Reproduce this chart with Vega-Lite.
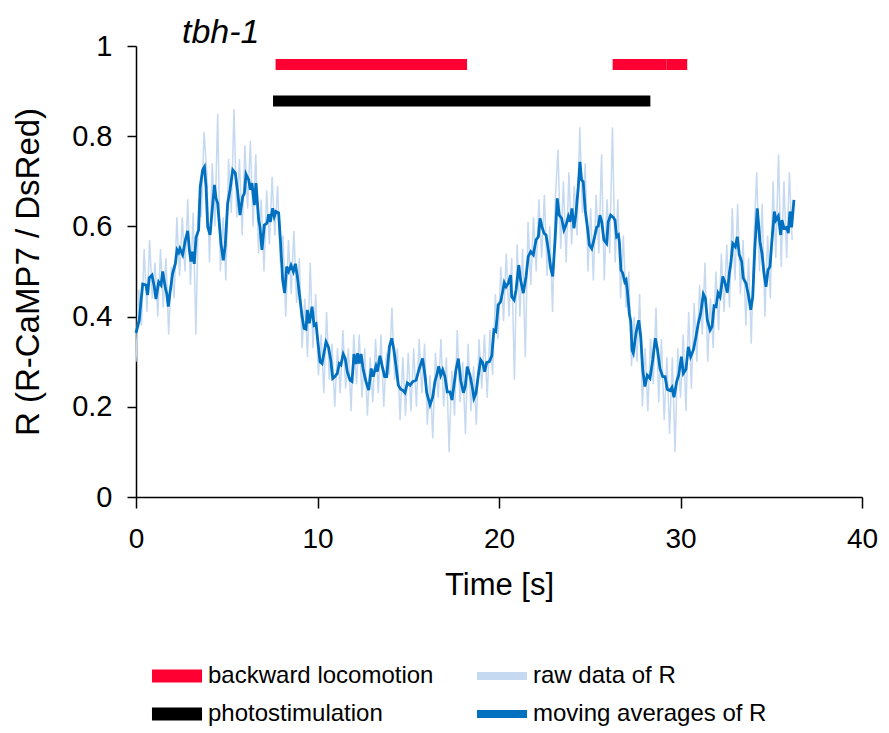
{
"$schema":"https://vega.github.io/schema/vega-lite/v6.json",
"width":726,"height":451,"autosize":"none",
"padding":{"left":136,"top":46,"right":27,"bottom":236},
"config":{"view":{"stroke":null},"font":"Liberation Sans","axis":{"grid":false,"domainColor":"black","tickColor":"black","labelColor":"black","titleColor":"black","domainWidth":1.5,"tickWidth":1.5,"labelFontSize":28,"titleFontWeight":"normal","labelFont":"Liberation Sans","titleFont":"Liberation Sans"}},
"title":{"text":"tbh-1","fontStyle":"italic","fontWeight":"normal","fontSize":34,"font":"Liberation Sans","anchor":"start","frame":"group","dx":46,"dy":22,"offset":4,"color":"black"},
"datasets":{
"raw":[{"t":0,"r":0.3},{"t":0.15,"r":0.46},{"t":0.3,"r":0.38},{"t":0.45,"r":0.55},{"t":0.6,"r":0.41},{"t":0.75,"r":0.57},{"t":0.9,"r":0.44},{"t":1.05,"r":0.52},{"t":1.2,"r":0.4},{"t":1.35,"r":0.55},{"t":1.5,"r":0.42},{"t":1.65,"r":0.53},{"t":1.8,"r":0.36},{"t":1.95,"r":0.51},{"t":2.1,"r":0.44},{"t":2.25,"r":0.62},{"t":2.4,"r":0.49},{"t":2.55,"r":0.62},{"t":2.7,"r":0.5},{"t":2.85,"r":0.66},{"t":3,"r":0.47},{"t":3.15,"r":0.63},{"t":3.3,"r":0.36},{"t":3.45,"r":0.66},{"t":3.6,"r":0.62},{"t":3.75,"r":0.81},{"t":3.9,"r":0.72},{"t":4.05,"r":0.52},{"t":4.2,"r":0.74},{"t":4.35,"r":0.6},{"t":4.5,"r":0.85},{"t":4.65,"r":0.5},{"t":4.8,"r":0.62},{"t":4.95,"r":0.48},{"t":5.1,"r":0.75},{"t":5.25,"r":0.63},{"t":5.4,"r":0.86},{"t":5.55,"r":0.62},{"t":5.7,"r":0.75},{"t":5.85,"r":0.58},{"t":6,"r":0.78},{"t":6.15,"r":0.64},{"t":6.3,"r":0.79},{"t":6.45,"r":0.6},{"t":6.6,"r":0.76},{"t":6.75,"r":0.54},{"t":6.9,"r":0.66},{"t":7.05,"r":0.5},{"t":7.2,"r":0.68},{"t":7.35,"r":0.56},{"t":7.5,"r":0.71},{"t":7.65,"r":0.58},{"t":7.8,"r":0.69},{"t":7.95,"r":0.52},{"t":8.1,"r":0.58},{"t":8.25,"r":0.4},{"t":8.4,"r":0.57},{"t":8.55,"r":0.45},{"t":8.7,"r":0.59},{"t":8.85,"r":0.43},{"t":9,"r":0.53},{"t":9.15,"r":0.33},{"t":9.3,"r":0.44},{"t":9.45,"r":0.31},{"t":9.6,"r":0.52},{"t":9.75,"r":0.33},{"t":9.9,"r":0.45},{"t":10.05,"r":0.27},{"t":10.2,"r":0.36},{"t":10.35,"r":0.23},{"t":10.5,"r":0.41},{"t":10.65,"r":0.26},{"t":10.8,"r":0.34},{"t":10.95,"r":0.2},{"t":11.1,"r":0.33},{"t":11.25,"r":0.23},{"t":11.4,"r":0.37},{"t":11.55,"r":0.24},{"t":11.7,"r":0.33},{"t":11.85,"r":0.19},{"t":12,"r":0.36},{"t":12.15,"r":0.25},{"t":12.3,"r":0.36},{"t":12.45,"r":0.22},{"t":12.6,"r":0.33},{"t":12.75,"r":0.18},{"t":12.9,"r":0.31},{"t":13.05,"r":0.21},{"t":13.2,"r":0.35},{"t":13.35,"r":0.23},{"t":13.5,"r":0.36},{"t":13.65,"r":0.2},{"t":13.8,"r":0.32},{"t":13.95,"r":0.27},{"t":14.1,"r":0.42},{"t":14.25,"r":0.26},{"t":14.4,"r":0.33},{"t":14.55,"r":0.17},{"t":14.7,"r":0.31},{"t":14.85,"r":0.18},{"t":15,"r":0.32},{"t":15.15,"r":0.19},{"t":15.3,"r":0.33},{"t":15.45,"r":0.2},{"t":15.6,"r":0.35},{"t":15.75,"r":0.23},{"t":15.9,"r":0.34},{"t":16.05,"r":0.16},{"t":16.2,"r":0.27},{"t":16.35,"r":0.13},{"t":16.5,"r":0.32},{"t":16.65,"r":0.22},{"t":16.8,"r":0.35},{"t":16.95,"r":0.2},{"t":17.1,"r":0.31},{"t":17.25,"r":0.1},{"t":17.4,"r":0.28},{"t":17.55,"r":0.18},{"t":17.7,"r":0.37},{"t":17.85,"r":0.21},{"t":18,"r":0.3},{"t":18.15,"r":0.14},{"t":18.3,"r":0.34},{"t":18.45,"r":0.19},{"t":18.6,"r":0.29},{"t":18.75,"r":0.16},{"t":18.9,"r":0.35},{"t":19.05,"r":0.24},{"t":19.2,"r":0.36},{"t":19.35,"r":0.22},{"t":19.5,"r":0.37},{"t":19.65,"r":0.27},{"t":19.8,"r":0.45},{"t":19.95,"r":0.35},{"t":20.1,"r":0.51},{"t":20.25,"r":0.39},{"t":20.4,"r":0.54},{"t":20.55,"r":0.4},{"t":20.7,"r":0.53},{"t":20.85,"r":0.26},{"t":21,"r":0.56},{"t":21.15,"r":0.4},{"t":21.3,"r":0.55},{"t":21.45,"r":0.31},{"t":21.6,"r":0.61},{"t":21.75,"r":0.47},{"t":21.9,"r":0.62},{"t":22.05,"r":0.5},{"t":22.2,"r":0.66},{"t":22.35,"r":0.53},{"t":22.5,"r":0.67},{"t":22.65,"r":0.49},{"t":22.8,"r":0.6},{"t":22.95,"r":0.41},{"t":23.1,"r":0.66},{"t":23.25,"r":0.77},{"t":23.4,"r":0.55},{"t":23.55,"r":0.7},{"t":23.7,"r":0.52},{"t":23.85,"r":0.72},{"t":24,"r":0.56},{"t":24.15,"r":0.69},{"t":24.3,"r":0.58},{"t":24.45,"r":0.82},{"t":24.6,"r":0.63},{"t":24.75,"r":0.74},{"t":24.9,"r":0.5},{"t":25.05,"r":0.64},{"t":25.2,"r":0.48},{"t":25.35,"r":0.67},{"t":25.5,"r":0.54},{"t":25.65,"r":0.76},{"t":25.8,"r":0.48},{"t":25.95,"r":0.66},{"t":26.1,"r":0.54},{"t":26.25,"r":0.82},{"t":26.4,"r":0.52},{"t":26.55,"r":0.66},{"t":26.7,"r":0.44},{"t":26.85,"r":0.58},{"t":27,"r":0.42},{"t":27.15,"r":0.5},{"t":27.3,"r":0.29},{"t":27.45,"r":0.4},{"t":27.6,"r":0.3},{"t":27.75,"r":0.45},{"t":27.9,"r":0.2},{"t":28.05,"r":0.33},{"t":28.2,"r":0.19},{"t":28.35,"r":0.35},{"t":28.5,"r":0.25},{"t":28.65,"r":0.42},{"t":28.8,"r":0.21},{"t":28.95,"r":0.35},{"t":29.1,"r":0.17},{"t":29.25,"r":0.31},{"t":29.4,"r":0.14},{"t":29.55,"r":0.31},{"t":29.7,"r":0.1},{"t":29.85,"r":0.33},{"t":30,"r":0.22},{"t":30.15,"r":0.36},{"t":30.3,"r":0.19},{"t":30.45,"r":0.41},{"t":30.6,"r":0.24},{"t":30.75,"r":0.43},{"t":30.9,"r":0.3},{"t":31.05,"r":0.47},{"t":31.2,"r":0.36},{"t":31.35,"r":0.52},{"t":31.5,"r":0.3},{"t":31.65,"r":0.44},{"t":31.8,"r":0.33},{"t":31.95,"r":0.5},{"t":32.1,"r":0.37},{"t":32.25,"r":0.54},{"t":32.4,"r":0.41},{"t":32.55,"r":0.56},{"t":32.7,"r":0.42},{"t":32.85,"r":0.64},{"t":33,"r":0.48},{"t":33.15,"r":0.65},{"t":33.3,"r":0.45},{"t":33.45,"r":0.57},{"t":33.6,"r":0.38},{"t":33.75,"r":0.53},{"t":33.9,"r":0.34},{"t":34.05,"r":0.58},{"t":34.2,"r":0.72},{"t":34.35,"r":0.5},{"t":34.5,"r":0.65},{"t":34.65,"r":0.4},{"t":34.8,"r":0.58},{"t":34.95,"r":0.44},{"t":35.1,"r":0.7},{"t":35.25,"r":0.53},{"t":35.4,"r":0.76},{"t":35.55,"r":0.51},{"t":35.7,"r":0.7},{"t":35.85,"r":0.53},{"t":36,"r":0.72},{"t":36.15,"r":0.57}],
"ma":[{"t":0,"r":0.364},{"t":0.18,"r":0.392},{"t":0.28,"r":0.437},{"t":0.37,"r":0.472},{"t":0.55,"r":0.47},{"t":0.64,"r":0.448},{"t":0.73,"r":0.486},{"t":0.88,"r":0.492},{"t":1.01,"r":0.466},{"t":1.1,"r":0.439},{"t":1.25,"r":0.477},{"t":1.38,"r":0.47},{"t":1.47,"r":0.5},{"t":1.62,"r":0.463},{"t":1.69,"r":0.452},{"t":1.78,"r":0.422},{"t":1.87,"r":0.452},{"t":2.02,"r":0.496},{"t":2.17,"r":0.518},{"t":2.26,"r":0.548},{"t":2.35,"r":0.542},{"t":2.42,"r":0.551},{"t":2.57,"r":0.537},{"t":2.72,"r":0.57},{"t":2.85,"r":0.59},{"t":2.94,"r":0.548},{"t":3.03,"r":0.522},{"t":3.12,"r":0.544},{"t":3.21,"r":0.517},{"t":3.31,"r":0.576},{"t":3.45,"r":0.592},{"t":3.54,"r":0.688},{"t":3.67,"r":0.725},{"t":3.77,"r":0.732},{"t":3.86,"r":0.688},{"t":3.95,"r":0.599},{"t":4.08,"r":0.581},{"t":4.19,"r":0.633},{"t":4.32,"r":0.692},{"t":4.41,"r":0.662},{"t":4.5,"r":0.651},{"t":4.68,"r":0.562},{"t":4.81,"r":0.525},{"t":4.92,"r":0.559},{"t":5.05,"r":0.651},{"t":5.18,"r":0.681},{"t":5.33,"r":0.725},{"t":5.47,"r":0.718},{"t":5.6,"r":0.677},{"t":5.73,"r":0.625},{"t":5.88,"r":0.666},{"t":5.97,"r":0.673},{"t":6.06,"r":0.716},{"t":6.21,"r":0.703},{"t":6.3,"r":0.681},{"t":6.39,"r":0.696},{"t":6.52,"r":0.647},{"t":6.61,"r":0.696},{"t":6.76,"r":0.614},{"t":6.83,"r":0.599},{"t":6.94,"r":0.548},{"t":7.07,"r":0.603},{"t":7.22,"r":0.607},{"t":7.31,"r":0.627},{"t":7.4,"r":0.61},{"t":7.53,"r":0.64},{"t":7.62,"r":0.622},{"t":7.71,"r":0.633},{"t":7.86,"r":0.63},{"t":7.99,"r":0.548},{"t":8.08,"r":0.481},{"t":8.19,"r":0.452},{"t":8.3,"r":0.511},{"t":8.41,"r":0.5},{"t":8.54,"r":0.514},{"t":8.67,"r":0.5},{"t":8.78,"r":0.517},{"t":8.89,"r":0.489},{"t":9.04,"r":0.437},{"t":9.15,"r":0.4},{"t":9.26,"r":0.374},{"t":9.37,"r":0.372},{"t":9.44,"r":0.415},{"t":9.55,"r":0.385},{"t":9.7,"r":0.422},{"t":9.81,"r":0.381},{"t":9.92,"r":0.384},{"t":10.05,"r":0.333},{"t":10.14,"r":0.3},{"t":10.25,"r":0.296},{"t":10.32,"r":0.311},{"t":10.47,"r":0.344},{"t":10.6,"r":0.333},{"t":10.73,"r":0.304},{"t":10.84,"r":0.263},{"t":10.96,"r":0.267},{"t":11.09,"r":0.274},{"t":11.2,"r":0.296},{"t":11.29,"r":0.293},{"t":11.42,"r":0.317},{"t":11.53,"r":0.307},{"t":11.64,"r":0.278},{"t":11.79,"r":0.259},{"t":11.9,"r":0.256},{"t":12.01,"r":0.317},{"t":12.12,"r":0.295},{"t":12.21,"r":0.319},{"t":12.3,"r":0.296},{"t":12.4,"r":0.317},{"t":12.52,"r":0.282},{"t":12.67,"r":0.256},{"t":12.82,"r":0.237},{"t":12.96,"r":0.285},{"t":13.07,"r":0.267},{"t":13.22,"r":0.29},{"t":13.3,"r":0.278},{"t":13.44,"r":0.313},{"t":13.57,"r":0.289},{"t":13.7,"r":0.267},{"t":13.81,"r":0.267},{"t":13.96,"r":0.333},{"t":14.09,"r":0.352},{"t":14.21,"r":0.326},{"t":14.33,"r":0.289},{"t":14.45,"r":0.248},{"t":14.58,"r":0.239},{"t":14.69,"r":0.237},{"t":14.82,"r":0.231},{"t":14.95,"r":0.253},{"t":15.1,"r":0.248},{"t":15.25,"r":0.256},{"t":15.43,"r":0.259},{"t":15.61,"r":0.285},{"t":15.79,"r":0.307},{"t":15.92,"r":0.27},{"t":16.02,"r":0.231},{"t":16.2,"r":0.204},{"t":16.35,"r":0.222},{"t":16.47,"r":0.256},{"t":16.57,"r":0.27},{"t":16.68,"r":0.29},{"t":16.79,"r":0.27},{"t":16.9,"r":0.282},{"t":17.02,"r":0.267},{"t":17.15,"r":0.233},{"t":17.3,"r":0.233},{"t":17.41,"r":0.215},{"t":17.52,"r":0.248},{"t":17.63,"r":0.282},{"t":17.76,"r":0.307},{"t":17.89,"r":0.259},{"t":18.04,"r":0.231},{"t":18.14,"r":0.245},{"t":18.25,"r":0.289},{"t":18.4,"r":0.27},{"t":18.51,"r":0.248},{"t":18.62,"r":0.219},{"t":18.73,"r":0.23},{"t":18.86,"r":0.27},{"t":18.99,"r":0.304},{"t":19.1,"r":0.298},{"t":19.21,"r":0.278},{"t":19.32,"r":0.298},{"t":19.47,"r":0.3},{"t":19.6,"r":0.313},{"t":19.72,"r":0.37},{"t":19.82,"r":0.367},{"t":19.96,"r":0.426},{"t":20.09,"r":0.433},{"t":20.2,"r":0.455},{"t":20.29,"r":0.475},{"t":20.39,"r":0.466},{"t":20.51,"r":0.474},{"t":20.64,"r":0.492},{"t":20.7,"r":0.444},{"t":20.83,"r":0.437},{"t":20.94,"r":0.459},{"t":21.09,"r":0.514},{"t":21.19,"r":0.481},{"t":21.34,"r":0.452},{"t":21.49,"r":0.489},{"t":21.61,"r":0.533},{"t":21.75,"r":0.544},{"t":21.89,"r":0.537},{"t":22.04,"r":0.57},{"t":22.17,"r":0.577},{"t":22.26,"r":0.618},{"t":22.37,"r":0.599},{"t":22.48,"r":0.585},{"t":22.59,"r":0.581},{"t":22.72,"r":0.548},{"t":22.85,"r":0.507},{"t":22.96,"r":0.489},{"t":23.09,"r":0.57},{"t":23.21,"r":0.662},{"t":23.32,"r":0.625},{"t":23.45,"r":0.618},{"t":23.58,"r":0.592},{"t":23.69,"r":0.603},{"t":23.82,"r":0.622},{"t":23.91,"r":0.61},{"t":24.02,"r":0.64},{"t":24.13,"r":0.596},{"t":24.24,"r":0.629},{"t":24.37,"r":0.688},{"t":24.46,"r":0.743},{"t":24.55,"r":0.703},{"t":24.64,"r":0.699},{"t":24.75,"r":0.636},{"t":24.87,"r":0.599},{"t":24.98,"r":0.559},{"t":25.11,"r":0.551},{"t":25.23,"r":0.57},{"t":25.38,"r":0.598},{"t":25.47,"r":0.601},{"t":25.56,"r":0.625},{"t":25.66,"r":0.61},{"t":25.78,"r":0.57},{"t":25.93,"r":0.562},{"t":26.02,"r":0.61},{"t":26.15,"r":0.625},{"t":26.3,"r":0.62},{"t":26.39,"r":0.614},{"t":26.48,"r":0.577},{"t":26.58,"r":0.581},{"t":26.63,"r":0.566},{"t":26.72,"r":0.503},{"t":26.81,"r":0.497},{"t":26.93,"r":0.477},{"t":27,"r":0.481},{"t":27.07,"r":0.459},{"t":27.18,"r":0.407},{"t":27.26,"r":0.389},{"t":27.33,"r":0.326},{"t":27.4,"r":0.319},{"t":27.55,"r":0.364},{"t":27.7,"r":0.392},{"t":27.81,"r":0.355},{"t":27.92,"r":0.282},{"t":28.04,"r":0.245},{"t":28.17,"r":0.27},{"t":28.32,"r":0.263},{"t":28.47,"r":0.304},{"t":28.61,"r":0.352},{"t":28.72,"r":0.33},{"t":28.87,"r":0.285},{"t":29.02,"r":0.267},{"t":29.15,"r":0.267},{"t":29.27,"r":0.239},{"t":29.42,"r":0.236},{"t":29.53,"r":0.243},{"t":29.64,"r":0.221},{"t":29.79,"r":0.256},{"t":29.9,"r":0.27},{"t":30.05,"r":0.311},{"t":30.16,"r":0.274},{"t":30.3,"r":0.283},{"t":30.43,"r":0.333},{"t":30.56,"r":0.311},{"t":30.71,"r":0.326},{"t":30.85,"r":0.355},{"t":30.98,"r":0.385},{"t":31.11,"r":0.407},{"t":31.26,"r":0.45},{"t":31.37,"r":0.441},{"t":31.48,"r":0.392},{"t":31.63,"r":0.37},{"t":31.74,"r":0.378},{"t":31.85,"r":0.424},{"t":31.96,"r":0.422},{"t":32.07,"r":0.452},{"t":32.18,"r":0.444},{"t":32.33,"r":0.489},{"t":32.44,"r":0.477},{"t":32.58,"r":0.453},{"t":32.69,"r":0.496},{"t":32.77,"r":0.517},{"t":32.88,"r":0.562},{"t":33.02,"r":0.555},{"t":33.13,"r":0.577},{"t":33.24,"r":0.537},{"t":33.37,"r":0.522},{"t":33.46,"r":0.485},{"t":33.61,"r":0.474},{"t":33.74,"r":0.448},{"t":33.87,"r":0.415},{"t":33.98,"r":0.444},{"t":34.09,"r":0.548},{"t":34.23,"r":0.64},{"t":34.38,"r":0.566},{"t":34.49,"r":0.54},{"t":34.6,"r":0.496},{"t":34.71,"r":0.466},{"t":34.82,"r":0.503},{"t":34.93,"r":0.511},{"t":35.04,"r":0.57},{"t":35.17,"r":0.633},{"t":35.26,"r":0.614},{"t":35.39,"r":0.623},{"t":35.52,"r":0.581},{"t":35.59,"r":0.614},{"t":35.7,"r":0.596},{"t":35.85,"r":0.598},{"t":35.94,"r":0.585},{"t":36.03,"r":0.633},{"t":36.12,"r":0.598},{"t":36.25,"r":0.659}],
"bars":[{"label":"backward locomotion","start":7.69,"end":18.24,"y":0.959},{"label":"backward locomotion","start":26.26,"end":29.22,"y":0.959},{"label":"backward locomotion","start":29.22,"end":30.37,"y":0.959},{"label":"photostimulation","start":7.55,"end":28.34,"y":0.878}]
},
"layer":[
{"data":{"name":"raw"},"mark":{"type":"line","strokeWidth":1.5,"interpolate":"linear"},
 "encoding":{
  "x":{"field":"t","type":"quantitative","scale":{"domain":[0,40],"nice":false,"zero":false},"axis":{"values":[0,10,20,30,40],"title":"Time [s]","labelFlush":false,"tickSize":11,"labelPadding":17,"titlePadding":17,"titleFontSize":31}},
  "y":{"field":"r","type":"quantitative","scale":{"domain":[0,1],"nice":false},"axis":{"values":[0,0.2,0.4,0.6,0.8,1],"format":"~g","title":"R (R-CaMP7 / DsRed)","tickSize":9,"labelPadding":15,"titlePadding":26,"titleFontSize":33,"labelFontSize":29}},
  "color":{"datum":"raw data of R","type":"nominal","scale":{"domain":["backward locomotion","photostimulation","raw data of R","moving averages of R"],"range":["#ff0033","#000000","#c5d9f1","#0070c0"]},
   "legend":{"orient":"none","legendX":29,"legendY":618,"columns":2,"title":null,"padding":0,"symbolType":"M-3.85,-1H3.85V1H-3.85Z","symbolSize":169,"symbolStrokeWidth":0,"labelFontSize":24,"labelFont":"Liberation Sans","labelColor":"black","labelLimit":500,"labelOffset":19,"columnPadding":42,"rowPadding":14,
    "encode":{"symbols":{"update":{"fill":{"scale":"color","field":"value"},"stroke":{"value":"transparent"},"opacity":{"value":1},"shape":{"signal":"datum.value === 'raw data of R' || datum.value === 'moving averages of R' ? 'M-3.85,-0.62H3.85V0.62H-3.85Z' : 'M-3.85,-1H3.85V1H-3.85Z'"}}}}}}
 }},
{"data":{"name":"ma"},"mark":{"type":"line","strokeWidth":2.8,"interpolate":"linear"},
 "encoding":{"x":{"field":"t","type":"quantitative"},"y":{"field":"r","type":"quantitative"},"color":{"datum":"moving averages of R","type":"nominal"}}},
{"data":{"name":"bars"},"mark":{"type":"rule","strokeWidth":11,"strokeCap":"butt"},
 "encoding":{"x":{"field":"start","type":"quantitative"},"x2":{"field":"end"},"y":{"field":"y","type":"quantitative"},"color":{"field":"label","type":"nominal","legend":{"title":null}}}}
]
}
